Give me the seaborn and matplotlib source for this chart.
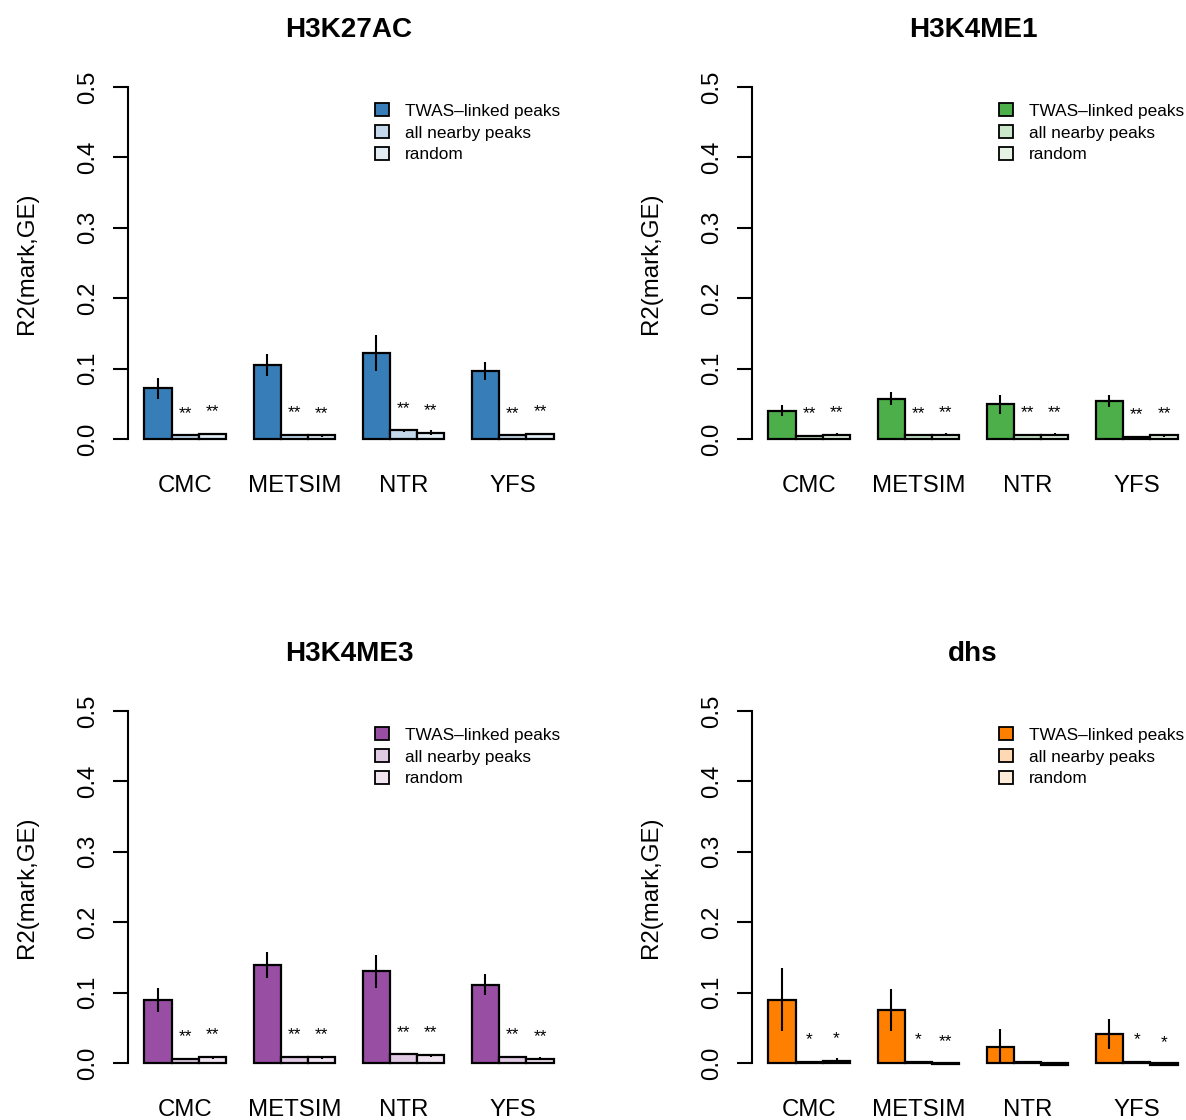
import matplotlib
matplotlib.use("Agg")
import matplotlib.pyplot as plt
from matplotlib.patches import Patch
import seaborn as sns
import pandas as pd
import numpy as np

# ---------------- data ----------------
cohorts = ["CMC", "METSIM", "NTR", "YFS"]
types = ["TWAS\u2013linked peaks", "all nearby peaks", "random"]
marks = ["H3K27AC", "H3K4ME1", "H3K4ME3", "dhs"]

h3k27ac_twas = [0.072, 0.105, 0.122, 0.097]
h3k27ac_twas_err = [0.015, 0.016, 0.025, 0.013]
h3k27ac_near = [0.005, 0.006, 0.012, 0.005]
h3k27ac_near_err = [0.001, 0.001, 0.002, 0.001]
h3k27ac_rand = [0.007, 0.005, 0.009, 0.007]
h3k27ac_rand_err = [0.002, 0.002, 0.003, 0.002]
h3k27ac_near_sig = ["**", "**", "**", "**"]
h3k27ac_rand_sig = ["**", "**", "**", "**"]

h3k4me1_twas = [0.040, 0.057, 0.049, 0.054]
h3k4me1_twas_err = [0.008, 0.009, 0.013, 0.008]
h3k4me1_near = [0.004, 0.005, 0.006, 0.003]
h3k4me1_near_err = [0.001, 0.001, 0.001, 0.001]
h3k4me1_rand = [0.006, 0.006, 0.006, 0.005]
h3k4me1_rand_err = [0.002, 0.002, 0.002, 0.002]
h3k4me1_near_sig = ["**", "**", "**", "**"]
h3k4me1_rand_sig = ["**", "**", "**", "**"]

h3k4me3_twas = [0.089, 0.139, 0.130, 0.111]
h3k4me3_twas_err = [0.017, 0.019, 0.024, 0.015]
h3k4me3_near = [0.006, 0.008, 0.012, 0.008]
h3k4me3_near_err = [0.001, 0.001, 0.001, 0.001]
h3k4me3_rand = [0.008, 0.008, 0.011, 0.006]
h3k4me3_rand_err = [0.002, 0.002, 0.002, 0.002]
h3k4me3_near_sig = ["**", "**", "**", "**"]
h3k4me3_rand_sig = ["**", "**", "**", "**"]

dhs_twas = [0.090, 0.075, 0.023, 0.041]
dhs_twas_err = [0.045, 0.030, 0.025, 0.021]
dhs_near = [0.001, 0.002, 0.001, 0.001]
dhs_near_err = [0.0005, 0.0005, 0.0005, 0.0005]
dhs_rand = [0.003, -0.001, -0.003, -0.003]
dhs_rand_err = [0.004, 0.001, 0.001, 0.001]
dhs_near_sig = ["*", "*", "", "*"]
dhs_rand_sig = ["*", "**", "", "*"]

base_colors = ["#377EB8", "#4DAF4A", "#984EA3", "#FF7F00"]
yticks = [0.0, 0.1, 0.2, 0.3, 0.4, 0.5]
ylabel = "R2(mark,GE)"

panels = [
    (h3k27ac_twas, h3k27ac_twas_err, h3k27ac_near, h3k27ac_near_err, h3k27ac_rand, h3k27ac_rand_err, h3k27ac_near_sig, h3k27ac_rand_sig),
    (h3k4me1_twas, h3k4me1_twas_err, h3k4me1_near, h3k4me1_near_err, h3k4me1_rand, h3k4me1_rand_err, h3k4me1_near_sig, h3k4me1_rand_sig),
    (h3k4me3_twas, h3k4me3_twas_err, h3k4me3_near, h3k4me3_near_err, h3k4me3_rand, h3k4me3_rand_err, h3k4me3_near_sig, h3k4me3_rand_sig),
    (dhs_twas, dhs_twas_err, dhs_near, dhs_near_err, dhs_rand, dhs_rand_err, dhs_near_sig, dhs_rand_sig),
]


def lighten(hexcol, alpha):
    c = np.array(matplotlib.colors.to_rgb(hexcol))
    return tuple(1 - alpha * (1 - c))


sns.set_style("white")
plt.rcParams["font.family"] = ["Liberation Sans", "DejaVu Sans"]
plt.rcParams["text.color"] = "black"
plt.rcParams["axes.labelcolor"] = "black"
plt.rcParams["xtick.color"] = "black"
plt.rcParams["ytick.color"] = "black"

W, H = 1186, 1120
fig = plt.figure(figsize=(W / 100, H / 100), dpi=100)

# axes pixel boxes (left, top, right, bottom)
boxes = [(128, 73, 570, 453), (752, 73, 1194, 453),
         (128, 697, 570, 1077), (752, 697, 1194, 1077)]

for k, (mark, col, box, pdata) in enumerate(zip(marks, base_colors, boxes, panels)):
    l, t, r, b = box
    ax = fig.add_axes([l / W, 1 - b / H, (r - l) / W, (b - t) / H])
    twas, twas_e, near, near_e, rand, rand_e, near_sig, rand_sig = pdata
    df = pd.DataFrame({
        "cohort": cohorts * 3,
        "type": [types[0]] * 4 + [types[1]] * 4 + [types[2]] * 4,
        "r2": list(twas) + list(near) + list(rand),
    })
    pal = [col, lighten(col, 0.3), lighten(col, 0.15)]
    sns.barplot(data=df, x="cohort", y="r2", hue="type", order=cohorts,
                hue_order=types, palette=pal, width=0.75, gap=0,
                saturation=1, edgecolor="black", linewidth=1.6,
                errorbar=None, legend=False, ax=ax)
    errs = [twas_e, near_e, rand_e]
    vals = [twas, near, rand]
    sigs = [None, near_sig, rand_sig]
    for j, cont in enumerate(ax.containers):
        for i, bar in enumerate(cont):
            xc = bar.get_x() + bar.get_width() / 2
            v = vals[j][i]
            e = errs[j][i]
            ax.plot([xc, xc], [v - e, v + e], color="black", lw=1.5,
                    solid_capstyle="butt", zorder=5)
            if sigs[j] is not None and sigs[j][i]:
                ax.annotate(sigs[j][i], (xc, v + 0.035), xytext=(0, -5),
                            textcoords="offset points", ha="center",
                            va="baseline", fontsize=12.5, color="black")
    ax.set_xlim(-0.525, 3.525)
    ax.set_ylim(-0.02, 0.52)
    ax.set_yticks(yticks)
    ax.set_yticklabels([f"{v:.1f}" for v in yticks])
    for s in ["top", "right", "bottom"]:
        ax.spines[s].set_visible(False)
    ax.spines["left"].set_bounds(0, 0.5)
    ax.spines["left"].set_linewidth(1.5)
    ax.spines["left"].set_color("black")
    ax.tick_params(axis="y", length=10.8, width=1.5, color="black",
                   labelsize=17.3, pad=10, left=True, labelcolor="black")
    for lab in ax.get_yticklabels():
        lab.set_rotation(90)
        lab.set_va("center")
        lab.set_ha("right")
    ax.tick_params(axis="x", length=0, labelsize=17.3, pad=16,
                   labelcolor="black")
    ax.set_xlabel("")
    ax.set_ylabel(ylabel, fontsize=17.3, color="black")
    ax.yaxis.set_label_coords(-0.2036, 0.5)
    ax.set_title(mark, fontsize=20.1, fontweight="bold", pad=26,
                 color="black")
    handles = [Patch(facecolor=c, edgecolor="black", linewidth=1.3) for c in pal]
    ax.legend(handles, types, loc="upper left",
              bbox_to_anchor=((375 - 128) / 442, 1 - (103 - 73) / 380),
              frameon=False, fontsize=12.4, borderpad=0, borderaxespad=0,
              handlelength=0.8, handleheight=0.8, handletextpad=0.95,
              labelspacing=0.37)
    ax.patch.set_alpha(0)

fig.savefig("out.png", dpi=100)
